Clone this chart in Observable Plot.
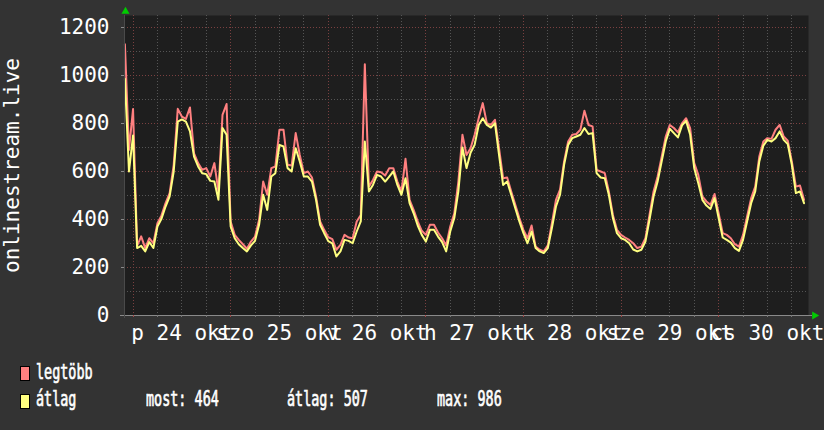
<!DOCTYPE html>
<html><head><meta charset="utf-8">
<script src="https://cdn.jsdelivr.net/npm/d3@7"></script>
<script src="https://cdn.jsdelivr.net/npm/@observablehq/plot@0.6"></script>
<style>
html,body{margin:0;padding:0;background:#333333;}
#chart{width:824px;height:430px;position:relative;overflow:hidden;background:#333333;}
#chart svg{display:block;}
#legend{position:relative;width:824px;height:85px;}
.leg{position:absolute;font-family:"DejaVu Sans Mono",monospace;font-size:21px;line-height:21px;color:#ffffff;-webkit-text-stroke:0.7px #ffffff;transform:scaleX(0.64);transform-origin:0 0;white-space:pre;}
.sw{position:absolute;width:10px;height:15px;border:1px solid #000;box-sizing:border-box;}
</style></head><body><div id="chart"></div><script>
// time axis: hourly samples, hours relative to 24 okt 00:00
const startHour = -2;
const stepHours = 1;
const xDomain = [-2.1, 166.1];

// "legtöbb" (max) series
const maxSeries = [
  1130, 690, 860, 290, 330, 281, 322, 301, 385, 417, 468, 510, 628, 861, 829, 819, 867, 676, 635, 607, 614, 579, 635, 517, 836, 881,
  392, 336, 315, 297, 278, 308, 329, 399, 558, 503, 614, 621, 774, 774, 628, 625, 760, 669, 593, 600, 575, 496, 392, 357,
  326, 318, 274, 294, 336, 325, 322, 392, 419, 1047, 537, 565, 600, 597, 583, 614, 614, 558, 517, 653, 482, 440, 392, 353,
  336, 378, 378, 346, 322, 292, 371, 426, 558, 753, 669, 697, 753, 822, 885, 801, 794, 815, 697, 572, 575, 517, 461, 406,
  357, 322, 375, 287, 274, 267, 292, 385, 482, 524, 642, 725, 753, 756, 774, 853, 794, 788, 607, 600, 593, 517, 419, 357,
  336, 325, 315, 301, 281, 287, 322, 419, 517, 579, 662, 746, 794, 781, 763, 801, 822, 781, 635, 586, 496, 475, 461, 506,
  426, 343, 336, 322, 297, 287, 336, 413, 489, 537, 662, 725, 739, 736, 774, 794, 746, 728, 642, 537, 542, 482
];
// "átlag" (average) series
const avgSeries = [
  986, 600, 750, 281, 290, 267, 306, 281, 371, 403, 454, 496, 600, 808, 817, 808, 767, 662, 621, 593, 589, 561, 558, 482, 781, 753,
  371, 322, 297, 281, 267, 292, 311, 378, 503, 440, 579, 593, 711, 704, 614, 600, 697, 642, 579, 579, 558, 482, 378, 343,
  310, 301, 246, 267, 315, 311, 301, 350, 392, 725, 517, 544, 586, 579, 558, 579, 600, 544, 503, 572, 468, 426, 375, 336,
  308, 357, 357, 329, 306, 267, 350, 406, 517, 700, 614, 678, 711, 794, 822, 794, 783, 801, 669, 544, 558, 503, 447, 392,
  343, 301, 350, 281, 267, 260, 281, 364, 454, 503, 628, 711, 739, 746, 753, 781, 756, 760, 593, 575, 572, 503, 406, 343,
  322, 315, 301, 275, 267, 274, 308, 399, 496, 558, 642, 725, 778, 760, 742, 792, 811, 753, 614, 551, 482, 458, 444, 489,
  406, 325, 315, 304, 281, 269, 315, 392, 468, 517, 642, 708, 732, 725, 739, 767, 732, 714, 628, 510, 517, 468
];

const dayLabels = ["p 24 okt", "szo 25 okt", "v 26 okt", "h 27 okt", "k 28 okt", "sze 29 okt", "cs 30 okt"];
const dayNoon = [12, 36, 60, 84, 108, 132, 156];
const yTicks = [0, 200, 400, 600, 800, 1000, 1200];
const yMinor = [100, 300, 500, 700, 900, 1100];
const dayStarts = [0, 24, 48, 72, 96, 120, 144];
const sixHours = d3.range(6, 166, 6).filter(h => h % 24 !== 0);

const yLabel = "onlinestream.live";
const legendRows = [
  {name: "legtöbb", color: "#ff8080"},
  {name: "átlag", color: "#ffff80", stats: ["most: 464", "átlag: 507", "max: 986"]}
];

const data = maxSeries.map((m, i) => ({h: startHour + i * stepHours, max: m, avg: avgSeries[i]}));
const dayTicks = dayNoon.map((h, i) => ({h, label: dayLabels[i]}));

const dotted = {strokeDasharray: "1,2", shapeRendering: "crispEdges"};
const plot = Plot.plot({
  width: 824, height: 345,
  marginLeft: 124, marginRight: 16, marginTop: 15, marginBottom: 30,
  style: {background: "#333333", color: "#ffffff", fontFamily: "'DejaVu Sans Mono', monospace", fontSize: "21px", overflow: "visible"},
  x: {domain: xDomain, axis: null},
  y: {domain: [0, 1250], axis: null},
  marks: [
    Plot.frame({fill: "#1e1e1e", stroke: "none"}),
    Plot.ruleY(yMinor, {stroke: "#555555", ...dotted}),
    Plot.ruleX(sixHours, {stroke: "#555555", ...dotted}),
    Plot.ruleY(yTicks.filter(d => d > 0), {stroke: "#7a4040", ...dotted}),
    Plot.ruleX(dayStarts, {stroke: "#7a4040", ...dotted}),
    Plot.line(data, {x: "h", y: "max", stroke: "#ff8080", strokeWidth: 2}),
    Plot.line(data, {x: "h", y: "avg", stroke: "#ffff80", strokeWidth: 2}),
    // axes lines
    Plot.ruleY([0], {x1: xDomain[0] - 1, x2: xDomain[1] + 1, stroke: "#8a8a8a", shapeRendering: "crispEdges"}),
    Plot.ruleX([xDomain[0]], {y1: -12, y2: 1250, stroke: "#4a4a4a", shapeRendering: "crispEdges"}),
    Plot.ruleX(sixHours, {y1: 0, y2: -10, stroke: "#777777", shapeRendering: "crispEdges"}),
    Plot.ruleX(dayStarts, {y1: 0, y2: -10, stroke: "#a04848", shapeRendering: "crispEdges"}),
    Plot.dot([0], {x: () => xDomain[1], y: () => 0, symbol: "triangle", r: 3, fill: "#00cc00", stroke: "none", rotate: 90, dx: 6}),
    Plot.dot([0], {x: () => xDomain[0], y: () => 1250, symbol: "triangle", r: 3, fill: "#00cc00", stroke: "none", dy: -4, dx: 1}),
    Plot.axisY(yTicks, {tickSize: 3, tickPadding: 12, stroke: "#8a8a8a", fill: "#ffffff", fontSize: 21, tickFormat: d => String(d)}),
    Plot.text(dayTicks, {x: "h", y: () => 0, text: "label", dy: 18, fill: "#ffffff", fontSize: 21}),
    Plot.text([yLabel], {frameAnchor: "left", textAnchor: "middle", dx: -112, rotate: -90, fill: "#ffffff", fontSize: 21})
  ]
});
const chart = document.getElementById("chart");
chart.appendChild(plot);

// legend below the SVG
const legend = document.createElement("div");
legend.id = "legend";
const rowTop = [21, 49];
const textTop = [17, 44];
const statLeft = [146, 287, 437];
legendRows.forEach((r, i) => {
  const sw = document.createElement("div");
  sw.className = "sw";
  sw.style.left = "20px"; sw.style.top = rowTop[i] + "px"; sw.style.background = r.color;
  legend.appendChild(sw);
  const t = document.createElement("div");
  t.className = "leg"; t.textContent = r.name;
  t.style.left = "36px"; t.style.top = textTop[i] + "px";
  legend.appendChild(t);
  (r.stats || []).forEach((s, j) => {
    const st = document.createElement("div");
    st.className = "leg"; st.textContent = s;
    st.style.left = statLeft[j] + "px"; st.style.top = textTop[i] + "px";
    legend.appendChild(st);
  });
});
chart.appendChild(legend);
</script></body></html>
